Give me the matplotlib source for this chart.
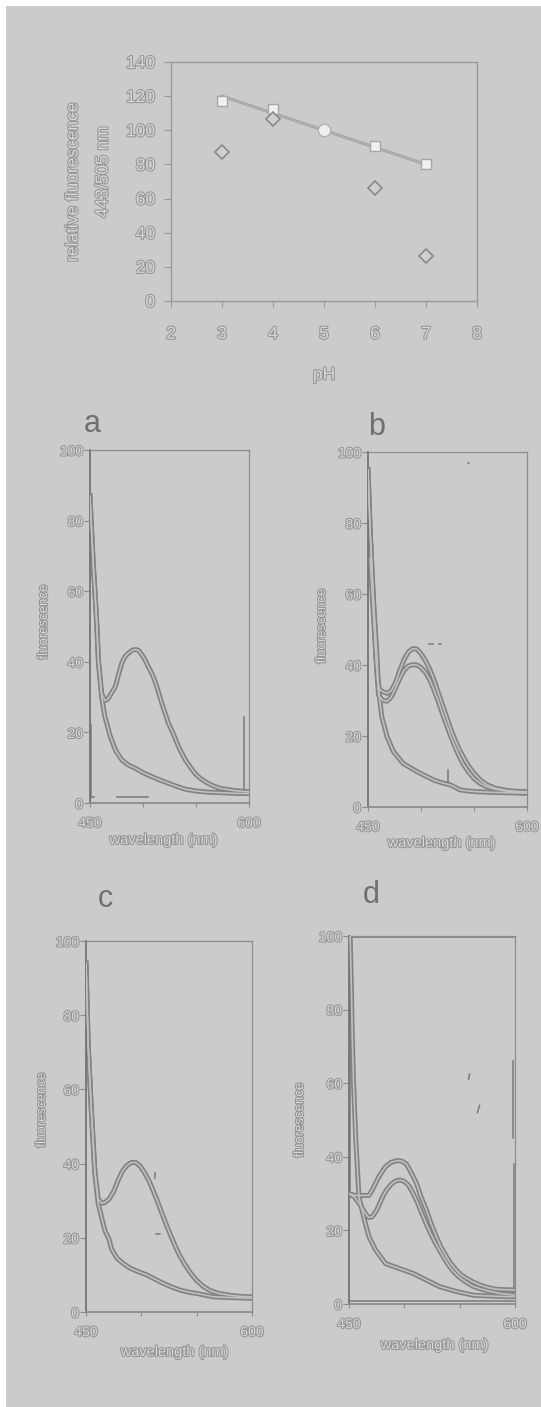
import matplotlib
matplotlib.use('Agg')
import matplotlib.pyplot as plt
import matplotlib.patheffects as pe
from matplotlib.patches import Rectangle

# ---------------- data: top chart ----------------
ph_ticks = [2, 3, 4, 5, 6, 7, 8]
rel_ticks = [0, 20, 40, 60, 80, 100, 120, 140]
sq_ph = [3, 4, 6, 7]
sq_val = [117, 112.3, 90.6, 80.4]
dia_ph = [3, 4, 6, 7]
dia_val = [87.3, 106.4, 66.2, 26.4]
ref_ph = [5]
ref_val = [100]
fit_ph = [3, 7]
fit_val = [120, 80]

# ---------------- data: spectra ----------------
wl_ticks = [450, 500, 550, 600]
wl_labels = ['450', '', '', '600']
fl_ticks = [0, 20, 40, 60, 80, 100]

# panel a
a1_wl = [450, 451, 453, 456, 458, 461, 464, 469, 474, 480, 486, 493, 500, 508, 516, 524, 532, 540, 550, 560, 575, 590, 600]
a1 = [87, 80, 68, 53, 40, 30, 24.5, 19, 15, 12.2, 10.8, 9.8, 8.6, 7.5, 6.5, 5.6, 4.7, 3.9, 3.4, 3.1, 2.9, 2.7, 2.7]
a2_wl = [450, 451, 453, 456, 458, 461, 464, 467, 470, 474, 477, 480, 483, 486, 490, 493, 496, 499, 502, 505, 509, 512,
         515, 518, 521, 524, 528, 531, 535, 540, 545, 549, 554, 559, 565, 572, 580, 587, 595, 600]
a2 = [87, 80, 68, 53, 40, 31, 29, 29.5, 31, 33, 36.5, 39.6, 41.5, 42.4, 43.3, 43.5, 43.2, 42, 40.5, 38.6, 36.3, 33.9,
      31, 28, 25.3, 22.6, 20, 17.8, 15, 12.2, 10, 8.4, 7, 6, 5, 4.2, 3.8, 3.5, 3.3, 3.2]
a_art_wl = [[451, 451], [595, 595], [475, 505], [452, 454]]
a_art = [[1.5, 22], [2.5, 24.5], [1.7, 1.7], [1.7, 1.7]]

# panel b
b1_wl = [450, 452, 455, 458, 460, 463, 468, 474, 483, 496, 504, 512, 520, 528, 537, 545, 553, 570, 585, 600]
b1 = [95, 78, 59, 45, 33, 25.4, 19.8, 15.6, 12.3, 10, 8.8, 7.6, 6.8, 6.2, 4.8, 4.5, 4.3, 4.1, 4.0, 3.9]
b2_wl = [450, 452, 455, 457, 459, 461, 464, 468, 472, 476, 480, 484, 488, 492, 496, 500, 504, 508, 512, 516, 520,
         524, 528, 532, 536, 540, 545, 550, 556, 562, 570, 580, 590, 600]
b2 = [95, 78, 59, 45, 36, 33, 32.5, 32, 32.8, 35, 38.5, 41.5, 43.6, 44.6, 44.5, 43.2, 41.3, 39, 36, 32.5, 29,
      25.5, 22, 19, 16.3, 14, 11.5, 9.5, 7.6, 6.3, 5.3, 4.7, 4.4, 4.3]
b3_wl = [452, 455, 458, 460, 464, 468, 472, 476, 480, 484, 488, 492, 496, 500, 504, 508, 512, 516, 520, 524, 528,
         532, 536, 540, 545, 550, 556, 562, 570, 580, 590, 600]
b3 = [70, 55, 40, 31.5, 30, 29.8, 31, 33.5, 36.2, 38.5, 39.7, 40.1, 40, 39.3, 38, 36, 33.2, 30, 26.5, 23.2, 20,
      17, 14.3, 12, 9.8, 8, 6.6, 5.7, 5, 4.5, 4.1, 3.9]
b_art_wl = [[508, 511], [517, 519], [525, 525], [544, 545]]
b_art = [[46, 46], [46, 46], [7, 10.5], [97, 97]]

# panel c
c1_wl = [450, 452, 455, 458, 461, 467, 471, 473, 478, 484, 490, 497, 505, 512, 520, 527, 535, 542, 550, 565, 580, 600]
c1 = [94, 71.5, 53.5, 37.4, 29.3, 22, 19.5, 17, 14.5, 13, 11.8, 10.9, 10, 8.9, 7.7, 6.8, 5.9, 5.4, 5, 4.1, 3.9, 3.7]
c2_wl = [450, 452, 455, 458, 461, 464, 467, 471, 475, 479, 483, 487, 491, 495, 499, 503, 507, 511, 515, 519, 523,
         527, 531, 535, 540, 545, 550, 556, 562, 570, 580, 590, 600]
c2 = [94, 71.5, 53.5, 38, 30.5, 29.3, 29.5, 30.5, 32.5, 35.5, 38, 39.5, 40.3, 40.3, 39.3, 37.5, 35.3, 32.5, 29.5,
      26.3, 23.2, 20.3, 17.5, 15, 12.5, 10.3, 8.5, 6.9, 5.8, 5, 4.5, 4.2, 4.1]
c_art_wl = [[513, 517], [512, 512]]
c_art = [[21, 21], [36, 37.5]]

# panel d
d1_wl = [451, 452, 453, 454, 456, 459, 464, 468, 474, 483, 495, 508, 520, 532, 547, 562, 575, 592, 600]
d1 = [100, 88, 72, 61, 45.5, 29, 22.8, 18.3, 14.7, 11, 9.7, 8.3, 6.5, 4.7, 3.4, 2.4, 2.2, 2, 2]
d2_wl = [450, 455, 459, 465, 468, 471, 474, 477, 480, 483, 488, 494, 498, 502, 506, 511, 515, 520, 524, 529, 533,
         538, 542, 547, 551, 556, 562, 568, 575, 583, 590, 600]
d2 = [30, 29.5, 29.5, 29.5, 29.5, 31, 32.8, 34.6, 36, 37.3, 38.5, 39, 38.8, 38, 35.8, 32.8, 29.2, 25.5, 22, 18.3, 15.5,
      12.9, 11, 9.2, 8, 7, 6, 5.2, 4.5, 4, 3.9, 3.8]
d3_wl = [450, 455, 460, 465, 468, 471, 475, 478, 481, 484, 488, 492, 496, 500, 504, 508, 512, 516, 520, 524, 528,
         532, 536, 541, 545, 550, 556, 562, 570, 578, 588, 600]
d3 = [30, 29, 27, 24.5, 23.5, 23.7, 25.5, 27.5, 29.5, 31, 32.5, 33.4, 33.7, 33.3, 32.2, 30, 27.5, 24.5, 21.6, 19, 16.6,
      14.5, 12.4, 10.1, 8.6, 7.2, 5.9, 4.8, 4, 3.4, 2.8, 2.4]
d_art_wl = [[451, 599], [451, 451], [599, 599], [451, 599], [598, 598], [566, 568], [558, 559]]
d_art = [[99.6, 99.6], [30, 100], [1.5, 38], [0.7, 0.7], [45, 66], [52, 54], [61, 62.5]]

# ---------------- figure ----------------
W, H = 541, 1407
fig = plt.figure(figsize=(W / 100, H / 100), dpi=100, facecolor='white')
fig.patches.append(Rectangle((6 / W, 0), 1 - 6 / W, 1 - 6 / H, transform=fig.transFigure,
                             facecolor='#cbcbcb', edgecolor='none', zorder=-10))

FAM = ['Liberation Sans', 'DejaVu Sans']
PE = [pe.withStroke(linewidth=1.5, foreground='#939393')]
TXT_C = '#d8d8d8'


def rect(x0, y0, x1, y1):
    return [x0 / W, 1 - y1 / H, (x1 - x0) / W, (y1 - y0) / H]


def ftext(x, y, s, size, rot=0, color=TXT_C, effects=PE):
    fig.text(x / W, 1 - y / H, s, ha='center', va='center', rotation=rot, fontsize=size,
             color=color, family=FAM, path_effects=effects)


def style_labels(ax, size):
    for lab in ax.get_xticklabels() + ax.get_yticklabels():
        lab.set_color(TXT_C)
        lab.set_path_effects(PE)
        lab.set_family(FAM)
        lab.set_fontsize(size)


# ---- top chart ----
ax0 = fig.add_axes(rect(171, 62, 477, 301))
ax0.set_facecolor('none')
ax0.set_xlim(2, 8)
ax0.set_ylim(0, 140)
ax0.set_xticks(ph_ticks)
ax0.set_yticks(rel_ticks)
ax0.tick_params(axis='x', direction='out', length=4, pad=14.5, color='#999999')
ax0.tick_params(axis='y', direction='out', length=5, pad=6.5, color='#999999')
for s in ax0.spines.values():
    s.set_color('#9a9a9a')
    s.set_linewidth(1)
style_labels(ax0, 12.5)
ax0.plot(fit_ph, fit_val, color='#9c9c9c', lw=2.0, zorder=2)
ax0.plot(fit_ph, fit_val, color='#bdbdbd', lw=0.7, zorder=2)
ax0.plot(sq_ph, sq_val, 's', ms=6.5, mfc='#f0f0f0', mec='#a6a6a6', mew=1, zorder=3)
ax0.plot(dia_ph, dia_val, 'D', ms=7.5, mfc='#cfcfcf', mec='#8a8a8a', mew=1.2, zorder=3)
ax0.plot(ref_ph, ref_val, 'o', ms=9, mfc='#eeeeee', mec='#b0b0b0', mew=1, zorder=4)
ftext(73, 182, 'relative fluorescence', 12.5, rot=90)
ftext(103, 172, '443/505 nm', 12.5, rot=90)
ftext(324, 375, 'pH', 12.5)


# ---- spectra panels ----
def panel(box, letter, lpos, ypos, xpos, curves, arts):
    ax = fig.add_axes(rect(*box))
    ax.set_facecolor('none')
    ax.set_xlim(450, 600)
    ax.set_ylim(0, 100)
    ax.set_xticks(wl_ticks)
    ax.set_xticklabels(wl_labels)
    ax.set_yticks(fl_ticks)
    ax.tick_params(axis='x', direction='out', length=3, pad=6.5, color='#8a8a8a')
    ax.tick_params(axis='y', direction='out', length=4.5, pad=0.5, color='#8a8a8a')
    for k, s in ax.spines.items():
        s.set_color('#8c8c8c')
        s.set_linewidth(0.9)
    ax.spines['left'].set_color('#747474')
    ax.spines['left'].set_linewidth(1.3)
    ax.spines['bottom'].set_linewidth(1.3)
    style_labels(ax, 10)
    for wl, v in curves:
        ax.plot(wl, v, color='#828282', lw=3.6, solid_joinstyle='round', zorder=2)
        ax.plot(wl, v, color='#c0c0c0', lw=1.2, zorder=3)
    for wl, v in arts:
        ax.plot(wl, v, color='#7a7a7a', lw=1.1, zorder=2, clip_on=False)
    ftext(lpos[0], lpos[1], letter, 22, color='#6f6f6f', effects=None)
    ftext(ypos[0], ypos[1], 'fluorescence', 9.5, rot=90)
    ftext(xpos[0], xpos[1], 'wavelength (nm)', 10.5)
    return ax


panel((90, 450, 249, 803), 'a', (92, 424), (44, 622), (164, 840),
      [(a1_wl, a1), (a2_wl, a2)], list(zip(a_art_wl, a_art)))
panel((368, 452, 527, 807), 'b', (377, 427), (322, 626), (442, 843),
      [(b1_wl, b1), (b2_wl, b2), (b3_wl, b3)], list(zip(b_art_wl, b_art)))
panel((86, 941, 252, 1312), 'c', (105, 899), (42, 1110), (175, 1352),
      [(c1_wl, c1), (c2_wl, c2)], list(zip(c_art_wl, c_art)))
panel((349, 936, 515, 1304), 'd', (371, 895), (300, 1120), (435, 1345),
      [(d1_wl, d1), (d2_wl, d2), (d3_wl, d3)], list(zip(d_art_wl, d_art)))

fig.savefig('out.png', dpi=100, facecolor='white')
